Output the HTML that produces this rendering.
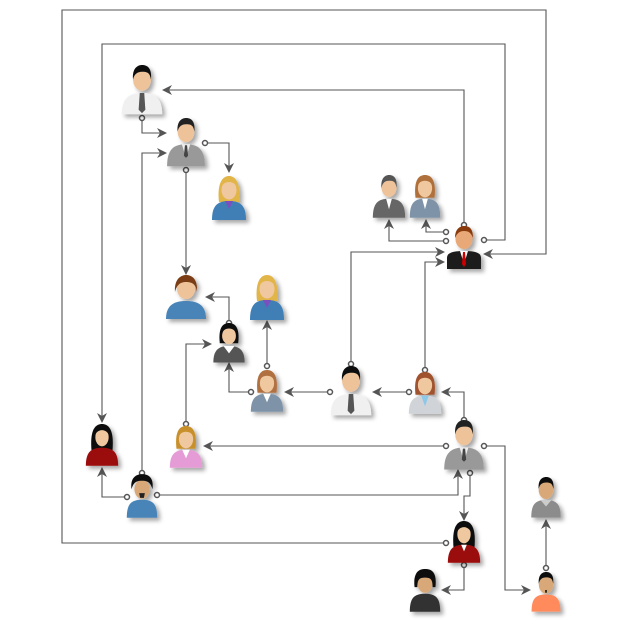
<!DOCTYPE html>
<html><head><meta charset="utf-8"><style>html,body{margin:0;padding:0;background:#fff}svg{display:block}</style></head>
<body>
<svg width="620" height="620" viewBox="0 0 620 620" xmlns="http://www.w3.org/2000/svg">
<defs>
<marker id="ar" viewBox="0 0 10 10" refX="9" refY="5" markerWidth="10" markerHeight="10" markerUnits="userSpaceOnUse" orient="auto">
<path d="M0,0 L10,5 L0,10 L3,5Z" fill="#555"/></marker>
<filter id="sh" x="-30%" y="-30%" width="160%" height="160%"><feDropShadow dx="3" dy="3" stdDeviation="2" flood-opacity="0.35"/></filter>
</defs>
<g fill="none" stroke="#555" stroke-width="1.1" marker-end="url(#ar)">
<path d="M446,543 H62 V10 H546 V254 H484"/>
<path d="M484,240 H505 V44 H102 V422"/>
<path d="M464,225 V90 H163"/>
<path d="M142,118 V133 H166"/>
<path d="M205,143 H229 V172"/>
<path d="M186,170 V274"/>
<path d="M446,232 H426 V220"/>
<path d="M446,241 H389 V220"/>
<path d="M351,364 V252 H444"/>
<path d="M425,370 V262 H444"/>
<path d="M229,323 V297 H206"/>
<path d="M267,366 V321"/>
<path d="M251,392 H229 V363"/>
<path d="M330,392 H285"/>
<path d="M409,392 H373"/>
<path d="M464,420 V392 H442"/>
<path d="M446,446 H204"/>
<path d="M186,424 V344 H211"/>
<path d="M142,473 V153 H166"/>
<path d="M127,497 H102 V468"/>
<path d="M157,495 H458 V470"/>
<path d="M470,473 V496 H464 V520"/>
<path d="M484,446 H505 V590 H530"/>
<path d="M464,565 V590 H442"/>
<path d="M546,568 V520"/>
</g>
<g fill="#fff" stroke="#555" stroke-width="1.5">
<circle cx="446" cy="543" r="2.5"/><circle cx="484" cy="240" r="2.5"/><circle cx="464" cy="225" r="2.5"/>
<circle cx="142" cy="118" r="2.5"/><circle cx="205" cy="143" r="2.5"/><circle cx="186" cy="170" r="2.5"/>
<circle cx="446" cy="232" r="2.5"/><circle cx="446" cy="241" r="2.5"/><circle cx="351" cy="364" r="2.5"/>
<circle cx="425" cy="370" r="2.5"/><circle cx="229" cy="323" r="2.5"/><circle cx="267" cy="366" r="2.5"/>
<circle cx="251" cy="392" r="2.5"/><circle cx="330" cy="392" r="2.5"/><circle cx="409" cy="392" r="2.5"/>
<circle cx="464" cy="420" r="2.5"/><circle cx="446" cy="446" r="2.5"/><circle cx="186" cy="424" r="2.5"/>
<circle cx="142" cy="473" r="2.5"/><circle cx="127" cy="497" r="2.5"/><circle cx="157" cy="495" r="2.5"/>
<circle cx="470" cy="473" r="2.5"/><circle cx="484" cy="446" r="2.5"/><circle cx="464" cy="565" r="2.5"/>
<circle cx="546" cy="568" r="2.5"/>
</g>
<g filter="url(#sh)">
<!-- A white man -->
<g transform="translate(142,65) scale(1.12)"><path d="M-18,44 C-18,30 -12,25 0,25 C12,25 18,30 18,44Z" fill="#f0f0f0"/><path d="M-2,25 L2,25 L3,40 L0,43 L-3,40Z" fill="#555"/><ellipse cx="0" cy="13" rx="8" ry="10" fill="#eec39a"/><path d="M-8,13 C-9,2 -3,0 0,0 C5,0 9,3 8,13 C7,7 5,6 0,6 C-4,6 -7,8 -8,13Z" fill="#111"/></g>
<!-- B grey suit -->
<g transform="translate(186,118) scale(1.05)"><path d="M-18,46 C-18,30 -12,25 0,25 C12,25 18,30 18,46Z" fill="#999"/><path d="M-4,25 L0,38 L4,25Z" fill="#eee"/><path d="M-1,26 L1,26 L2,36 L0,38 L-2,36Z" fill="#444"/><ellipse cx="0" cy="13" rx="8" ry="10" fill="#eec39a"/><path d="M-8,13 C-9,2 -3,0 0,0 C5,0 9,3 8,13 C7,7 5,6 0,6 C-4,6 -7,8 -8,13Z" fill="#222"/></g>
<!-- C blonde -->
<g transform="translate(229,176)"><path d="M-10,26 C-12,8 -7,0 0,0 C7,0 12,8 10,26Z" fill="#e2b54a"/><path d="M-17,44 C-17,30 -12,25 0,25 C12,25 17,30 17,44Z" fill="#3f7fb5"/><path d="M-4,25 L0,33 L4,25Z" fill="#7a4fc0"/><ellipse cx="0" cy="14" rx="7.5" ry="9.5" fill="#f0c8a0"/><path d="M-8,12 C-6,4 6,4 8,12 C7,5 4,3 0,3 C-4,3 -7,5 -8,12Z" fill="#e2b54a"/></g>
<!-- D brown hair man -->
<g transform="translate(186,276)"><path d="M-20,43 C-20,30 -13,25 0,25 C13,25 20,30 20,43Z" fill="#4a84b8"/><ellipse cx="0" cy="13" rx="9" ry="10" fill="#eec39a"/><path d="M-11,16 C-12,2 -4,-1 0,-1 C5,-1 12,2 11,16 C10,8 6,6 0,6 C-5,6 -9,8 -11,16Z" fill="#7a3e12"/></g>
<!-- E blonde -->
<g transform="translate(267,275)"><path d="M-10,26 C-12,8 -7,0 0,0 C7,0 12,8 10,26Z" fill="#e2b54a"/><path d="M-17,45 C-17,30 -12,25 0,25 C12,25 17,30 17,45Z" fill="#3f7fb5"/><path d="M-4,25 L0,33 L4,25Z" fill="#7a4fc0"/><ellipse cx="0" cy="14" rx="7.5" ry="9.5" fill="#f0c8a0"/><path d="M-8,12 C-6,4 6,4 8,12 C7,5 4,3 0,3 C-4,3 -7,5 -8,12Z" fill="#e2b54a"/></g>
<!-- F black hair woman dark -->
<g transform="translate(229,323) scale(0.92)"><path d="M-10,22 C-12,4 -6,0 0,0 C6,0 12,4 10,22Z" fill="#111"/><path d="M-17,43 C-17,30 -12,25 0,25 C12,25 17,30 17,43Z" fill="#555"/><path d="M-6,25 L0,33 L6,25Z" fill="#fff"/><ellipse cx="0" cy="14" rx="7.5" ry="9" fill="#f0c8a0"/><path d="M-8,12 C-6,4 6,4 8,12 C7,4 4,2 0,2 C-4,2 -7,4 -8,12Z" fill="#111"/></g>
<!-- G woman grey-blue -->
<g transform="translate(267,370) scale(0.95)"><path d="M-10,24 C-12,6 -7,0 0,0 C7,0 12,6 10,24Z" fill="#b07040"/><path d="M-17,44 C-17,30 -12,25 0,25 C12,25 17,30 17,44Z" fill="#7f93a8"/><path d="M-4,25 L0,34 L4,25Z" fill="#fff"/><ellipse cx="0" cy="14" rx="7.5" ry="9.5" fill="#f0c8a0"/><path d="M-8,12 C-6,4 6,4 8,12 C7,4 4,2 0,2 C-4,2 -7,4 -8,12Z" fill="#b07040"/></g>
<!-- H white man -->
<g transform="translate(351,366) scale(1.12)"><path d="M-18,44 C-18,30 -12,25 0,25 C12,25 18,30 18,44Z" fill="#f0f0f0"/><path d="M-2,25 L2,25 L3,40 L0,43 L-3,40Z" fill="#555"/><ellipse cx="0" cy="13" rx="8" ry="10" fill="#eec39a"/><path d="M-8,13 C-9,2 -3,0 0,0 C5,0 9,3 8,13 C7,7 5,6 0,6 C-4,6 -7,8 -8,13Z" fill="#111"/></g>
<!-- I woman light grey -->
<g transform="translate(425,372) scale(0.95)"><path d="M-10,24 C-12,6 -7,0 0,0 C7,0 12,6 10,24Z" fill="#a0522d"/><path d="M-17,44 C-17,30 -12,25 0,25 C12,25 17,30 17,44Z" fill="#d0d4d8"/><path d="M-4,25 L0,36 L4,25Z" fill="#8ec8e8"/><ellipse cx="0" cy="14" rx="7.5" ry="9.5" fill="#f0c8a0"/><path d="M-8,12 C-6,4 6,4 8,12 C7,4 4,2 0,2 C-4,2 -7,4 -8,12Z" fill="#a0522d"/></g>
<!-- J grey suit -->
<g transform="translate(464,420) scale(1.1)"><path d="M-18,45 C-18,30 -12,25 0,25 C12,25 18,30 18,45Z" fill="#999"/><path d="M-4,25 L0,38 L4,25Z" fill="#eee"/><path d="M-1,26 L1,26 L2,36 L0,38 L-2,36Z" fill="#444"/><ellipse cx="0" cy="13" rx="8" ry="10" fill="#eec39a"/><path d="M-8,13 C-9,2 -3,0 0,0 C5,0 9,3 8,13 C7,7 5,6 0,6 C-4,6 -7,8 -8,13Z" fill="#222"/></g>
<!-- K pink -->
<g transform="translate(186,426) scale(0.95)"><path d="M-10,24 C-12,6 -7,0 0,0 C7,0 12,6 10,24Z" fill="#c8902a"/><path d="M-17,44 C-17,30 -12,25 0,25 C12,25 17,30 17,44Z" fill="#e59bd6"/><path d="M-4,25 L0,34 L4,25Z" fill="#fff"/><ellipse cx="0" cy="14" rx="7.5" ry="9.5" fill="#f0c8a0"/><path d="M-8,12 C-6,4 6,4 8,12 C7,4 4,2 0,2 C-4,2 -7,4 -8,12Z" fill="#c8902a"/></g>
<!-- L red woman -->
<g transform="translate(102,424) scale(0.95)"><path d="M-11,28 C-13,6 -7,0 0,0 C7,0 13,6 11,28Z" fill="#111"/><path d="M-17,44 C-17,30 -12,25 0,25 C12,25 17,30 17,44Z" fill="#9b0c0c"/><ellipse cx="0" cy="14" rx="7" ry="9.5" fill="#f0c8a0"/><path d="M-8,14 C-6,4 6,4 8,14 C7,4 4,2 0,2 C-4,2 -7,4 -8,14Z" fill="#111"/></g>
<!-- M curly man beard -->
<g transform="translate(142,476) scale(0.95)"><path d="M-16,44 C-16,30 -12,25 0,25 C12,25 16,30 16,44Z" fill="#4a84b8"/><ellipse cx="0" cy="14" rx="8" ry="10" fill="#d8a878"/><path d="M-11,14 C-13,0 -4,-2 0,-2 C5,-2 13,0 11,14 C9,6 5,5 0,5 C-5,5 -9,6 -11,14Z" fill="#111"/><path d="M-3,18 L3,18 L2,23 L-2,23Z" fill="#222"/></g>
<!-- N red woman -->
<g transform="translate(464,521) scale(0.95)"><path d="M-11,28 C-13,6 -7,0 0,0 C7,0 13,6 11,28Z" fill="#111"/><path d="M-17,44 C-17,30 -12,25 0,25 C12,25 17,30 17,44Z" fill="#9b0c0c"/><path d="M-3,25 L0,32 L3,25Z" fill="#fff"/><ellipse cx="0" cy="14" rx="7" ry="9.5" fill="#f0c8a0"/><path d="M-8,14 C-6,4 6,4 8,14 C7,4 4,2 0,2 C-4,2 -7,4 -8,14Z" fill="#111"/></g>
<!-- O dark bob -->
<g transform="translate(425,570) scale(0.95)"><path d="M-16,44 C-16,30 -12,25 0,25 C12,25 16,30 16,44Z" fill="#333"/><ellipse cx="0" cy="14" rx="8" ry="10" fill="#d8a878"/><path d="M-11,18 C-13,0 -4,-1 0,-1 C5,-1 13,0 11,18 L8,18 C8,10 6,8 0,8 C-6,8 -8,10 -8,18Z" fill="#111"/></g>
<!-- P orange -->
<g transform="translate(546,572) scale(0.9)"><path d="M-16,44 C-16,30 -12,25 0,25 C12,25 16,30 16,44Z" fill="#ff8a5c"/><ellipse cx="0" cy="14" rx="8" ry="10" fill="#d8a878"/><path d="M-8,13 C-9,2 -3,0 0,0 C5,0 9,3 8,13 C7,7 5,6 0,6 C-4,6 -7,8 -8,13Z" fill="#111"/><path d="M-1,20 L1,20 L1,23 L-1,23Z" fill="#222"/></g>
<!-- Q grey -->
<g transform="translate(546,477) scale(0.92)"><path d="M-16,44 C-16,30 -12,25 0,25 C12,25 16,30 16,44Z" fill="#8c8c8c"/><path d="M-6,25 L0,32 L6,25Z" fill="#ccc"/><ellipse cx="0" cy="14" rx="8" ry="10" fill="#d8a878"/><path d="M-8,13 C-9,2 -3,0 0,0 C5,0 9,3 8,13 C7,7 5,6 0,6 C-4,6 -7,8 -8,13Z" fill="#111"/></g>
<!-- R grey man -->
<g transform="translate(389,175) scale(0.95)"><path d="M-17,45 C-17,30 -12,25 0,25 C12,25 17,30 17,45Z" fill="#666"/><path d="M-3,25 L0,36 L3,25Z" fill="#fff"/><ellipse cx="0" cy="13" rx="8" ry="10" fill="#eec39a"/><path d="M-8,14 C-9,2 -3,0 0,0 C5,0 9,3 8,14 C7,7 5,6 0,6 C-4,6 -7,8 -8,14Z" fill="#555"/></g>
<!-- S woman blue grey -->
<g transform="translate(425,175) scale(0.95)"><path d="M-10,24 C-12,6 -7,0 0,0 C7,0 12,6 10,24Z" fill="#b0703a"/><path d="M-16,45 C-16,30 -12,25 0,25 C12,25 16,30 16,45Z" fill="#7f93a8"/><path d="M-3,25 L0,36 L3,25Z" fill="#fff"/><ellipse cx="0" cy="14" rx="7.5" ry="9.5" fill="#f0c8a0"/><path d="M-8,12 C-6,4 6,4 8,12 C7,4 4,2 0,2 C-4,2 -7,4 -8,12Z" fill="#b0703a"/></g>
<!-- T boss -->
<g transform="translate(464,226)"><path d="M-17,43 L-17,32 C-17,27 -12,25 0,25 C12,25 17,27 17,32 L17,43Z" fill="#1e1e1e"/><path d="M-4,25 L0,38 L4,25Z" fill="#fff"/><path d="M-1,26 L1,26 L2,38 L0,41 L-2,38Z" fill="#c00"/><ellipse cx="0" cy="13" rx="8.5" ry="10" fill="#e8a878"/><path d="M-9,12 C-9,2 -3,0 0,0 C5,0 9,2 9,12 C7,7 5,5 0,5 C-4,5 -7,7 -9,12Z" fill="#8a3a10"/></g>
</g>
</svg>
</body></html>
